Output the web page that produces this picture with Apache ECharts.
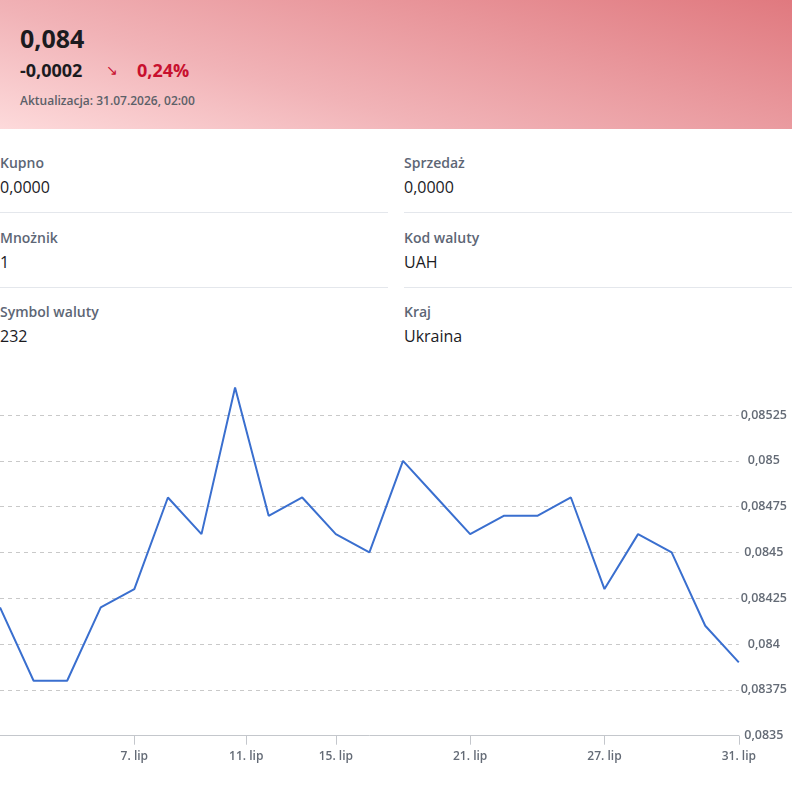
<!DOCTYPE html>
<html lang="pl">
<head>
<meta charset="utf-8">
<title>UAH</title>
<script src="https://cdn.jsdelivr.net/npm/echarts@6/dist/echarts.min.js"></script>
<style>
  html, body { margin: 0; padding: 0; background: #fff; }
  body { width: 792px; height: 790px; position: relative; overflow: hidden; font-family: "Open Sans", "Noto Sans", sans-serif; color: #1b1b1f; }
  .head { position: absolute; left: 0; top: 0; width: 792px; height: 129px;
    background: linear-gradient(15deg, #fddadb 0%, #f1b3b7 35%, #e0797f 100%); }
  .price { position: absolute; left: 20px; top: 22px; font-size: 25px; font-weight: 700; line-height: 32px; }
  .chg { position: absolute; left: 20px; top: 58px; font-size: 18px; font-weight: 700; line-height: 24px; }
  .arrow { position: absolute; left: 106px; top: 58px; font-size: 14px; color: #c8102e; line-height: 24px; }
  .pct { position: absolute; left: 137px; top: 58px; font-size: 18px; font-weight: 700; color: #c8102e; line-height: 24px; }
  .upd { position: absolute; left: 20px; top: 93px; font-size: 12px; font-weight: 600; color: #5c6068; line-height: 16px; }
  .cell { position: absolute; width: 388px; }
  .cell .lab { font-size: 14px; font-weight: 600; color: #5d6675; line-height: 20px; }
  .cell .val { font-size: 16px; color: #1b1b1f; line-height: 22px; margin-top: 3px; }
  .rule { position: absolute; height: 1px; background: #e4e7ec; }
  #chart { position: absolute; left: 0; top: 360px; width: 792px; height: 430px; }
</style>
</head>
<body>
<div class="head">
  <div class="price">0,084</div>
  <div class="chg">-0,0002</div>
  <div class="arrow">&#8600;</div>
  <div class="pct">0,24%</div>
  <div class="upd">Aktualizacja: 31.07.2026, 02:00</div>
</div>

<div class="cell" style="left:0;top:153px"><div class="lab">Kupno</div><div class="val">0,0000</div></div>
<div class="cell" style="left:404px;top:153px"><div class="lab">Sprzedaż</div><div class="val">0,0000</div></div>
<div class="rule" style="left:0;top:212px;width:388px"></div>
<div class="rule" style="left:404px;top:212px;width:388px"></div>
<div class="cell" style="left:0;top:228px"><div class="lab">Mnożnik</div><div class="val">1</div></div>
<div class="cell" style="left:404px;top:228px"><div class="lab">Kod waluty</div><div class="val">UAH</div></div>
<div class="rule" style="left:0;top:287px;width:388px"></div>
<div class="rule" style="left:404px;top:287px;width:388px"></div>
<div class="cell" style="left:0;top:302px"><div class="lab">Symbol waluty</div><div class="val">232</div></div>
<div class="cell" style="left:404px;top:302px"><div class="lab">Kraj</div><div class="val">Ukraina</div></div>

<div id="chart"></div>

<script>
// business days of July 2026 (weekends skipped)
const days = [1, 2, 3, 6, 7, 8, 9, 10, 13, 14, 15, 16, 17, 20, 21, 22, 23, 24, 27, 28, 29, 30, 31];
const rates = [0.0842, 0.0838, 0.0838, 0.0842, 0.0843, 0.0848, 0.0846, 0.0854, 0.0847, 0.0848, 0.0846, 0.0845,
  0.0850, 0.0848, 0.0846, 0.0847, 0.0847, 0.0848, 0.0843, 0.0846, 0.0845, 0.0841, 0.0839];
const tickDays = [7, 11, 15, 21, 27, 31];
const monthName = "lip";
const yMin = 0.0835, yMax = 0.0855, yStep = 0.00025;

// ordinal position of a calendar day (weekends squeezed between trading days)
function ordinalPos(d) {
  for (let i = 0; i < days.length - 1; i++) {
    if (d >= days[i] && d <= days[i + 1]) return i + (d - days[i]) / (days[i + 1] - days[i]);
  }
  return days.length - 1;
}
const tickPos = tickDays.map(ordinalPos);

function fmtRate(v) {
  return String(+v.toFixed(5)).replace(".", ",");
}

const chart = echarts.init(document.getElementById("chart"));
const axisGrey = "#c4c7cc";
const labelGrey = "#646b76";

chart.setOption({
  animation: false,
  grid: { left: -3.2, right: 53.2, top: 9.2, bottom: 54.3 },
  xAxis: {
    type: "value",
    min: 0,
    max: days.length - 1,
    axisLine: { show: true, lineStyle: { color: axisGrey, width: 1 } },
    axisTick: { show: true, length: 9, lineStyle: { color: axisGrey }, customValues: tickPos },
    axisLabel: {
      customValues: tickPos,
      margin: 15,
      color: labelGrey,
      fontSize: 12,
      fontWeight: 600,
      fontFamily: "Open Sans",
      formatter: function (v) {
        let best = 0;
        tickPos.forEach(function (p, i) { if (Math.abs(p - v) < Math.abs(tickPos[best] - v)) best = i; });
        return tickDays[best] + ". " + monthName;
      }
    },
    splitLine: { show: false }
  },
  yAxis: {
    type: "value",
    position: "right",
    min: yMin,
    max: yMax,
    interval: yStep,
    axisLine: { show: false },
    axisTick: { show: false },
    axisLabel: {
      showMaxLabel: false,
      align: "center",
      margin: 25,
      color: labelGrey,
      fontSize: 12.5,
      fontWeight: 600,
      fontFamily: "Open Sans",
      formatter: fmtRate
    },
    splitLine: {
      show: true,
      showMinLine: false,
      showMaxLine: false,
      lineStyle: { color: "#c9c9c9", type: [4, 4], width: 1 }
    }
  },
  series: [{
    type: "line",
    data: rates.map(function (r, i) { return [i, r]; }),
    symbol: "none",
    lineStyle: { color: "#3a6fcf", width: 2 },
    itemStyle: { color: "#3a6fcf" },
    clip: true
  }]
});
</script>
</body>
</html>
